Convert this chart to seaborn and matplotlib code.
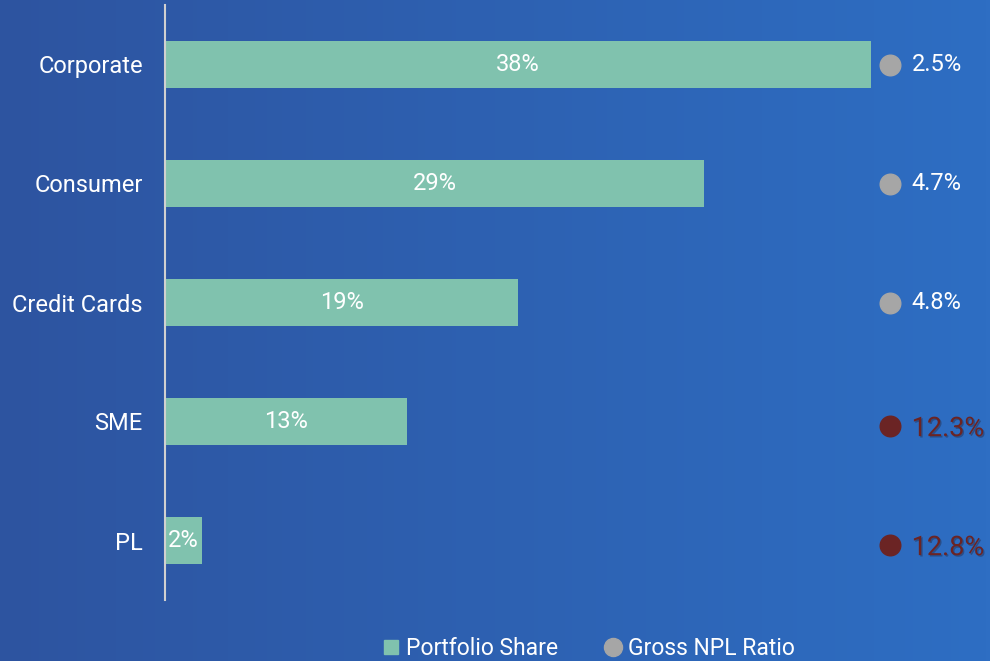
import numpy as np
import pandas as pd
import matplotlib
matplotlib.use('Agg')
import matplotlib.pyplot as plt
import matplotlib.patheffects as pe
from matplotlib.lines import Line2D
import seaborn as sns

# ── data ──────────────────────────────────────
segments = ['Corporate', 'Consumer', 'Credit Cards', 'SME', 'PL']
portfolio_share = [38, 29, 19, 13, 2]
npl_ratio = [2.5, 4.7, 4.8, 12.3, 12.8]
npl_high = [False, False, False, True, True]

df = pd.DataFrame({'segment': segments, 'share': portfolio_share,
                   'npl': npl_ratio, 'high': npl_high})

BAR = '#80C2AE'
GREY = '#A6A6A6'
RED = '#6B2424'
plt.rcParams['font.family'] = ['Roboto', 'DejaVu Sans']

fig = plt.figure(figsize=(9.9, 6.61), dpi=100)

# background gradient
bg = fig.add_axes([0, 0, 1, 1], zorder=0)
c0 = np.array([0x2D, 0x54, 0xA0]) / 255
c1 = np.array([0x2E, 0x6E, 0xC3]) / 255
t = np.linspace(0, 1, 256)[None, :, None]
grad = c0 + (c1 - c0) * t
bg.imshow(grad, aspect='auto', extent=[0, 1, 0, 1])
bg.axis('off')

ax = fig.add_axes([165 / 990, 1 - 600 / 661, 1 - 165 / 990, 595 / 661], zorder=1)
ax.patch.set_alpha(0)
sns.barplot(data=df, x='share', y='segment', color=BAR, width=0.4,
            saturation=1, ax=ax)
ax.set_xlim(0, 825 / 18.58)
ax.set_ylim(4.5, -0.5)
ax.set_xlabel('')
ax.set_ylabel('')
ax.set_xticks([])
ax.tick_params(axis='y', length=0, colors='white', labelsize=17, pad=16)
for s in ['top', 'right', 'bottom']:
    ax.spines[s].set_visible(False)
ax.spines['left'].set_color('#D0D0D0')
ax.spines['left'].set_linewidth(1.5)

for i, v in enumerate(portfolio_share):
    ax.text(v / 2, i, f'{v}%', ha='center', va='center',
            color='white', fontsize=17)

# NPL dots and labels
tr = ax.get_yaxis_transform()
for i, (v, hi) in enumerate(zip(npl_ratio, npl_high)):
    col = RED if hi else GREY
    ax.scatter([0.879], [i + (0.04 if hi else 0)], s=220, color=col,
               transform=tr, clip_on=False, zorder=3)
    if hi:
        ax.text(0.905, i + 0.06, f'{v}%', transform=tr, ha='left', va='center',
                color=RED, fontsize=19.5, clip_on=False,
                path_effects=[pe.withSimplePatchShadow(offset=(1, -1), alpha=0.3)])
    else:
        ax.text(0.905, i, f'{v}%', transform=tr, ha='left', va='center',
                color='white', fontsize=17, clip_on=False)

handles = [
    Line2D([], [], marker='s', linestyle='', color=BAR, markersize=10),
    Line2D([], [], marker='o', linestyle='', color=GREY, markersize=13),
]
fig.legend(handles, ['Portfolio Share', 'Gross NPL Ratio'], loc='center',
           bbox_to_anchor=(0.594, 0.019), ncol=2, frameon=False, fontsize=16.5,
           labelcolor='white', handletextpad=0.25, columnspacing=2.0,
           handlelength=0.8)

fig.savefig('out.png', dpi=100)
